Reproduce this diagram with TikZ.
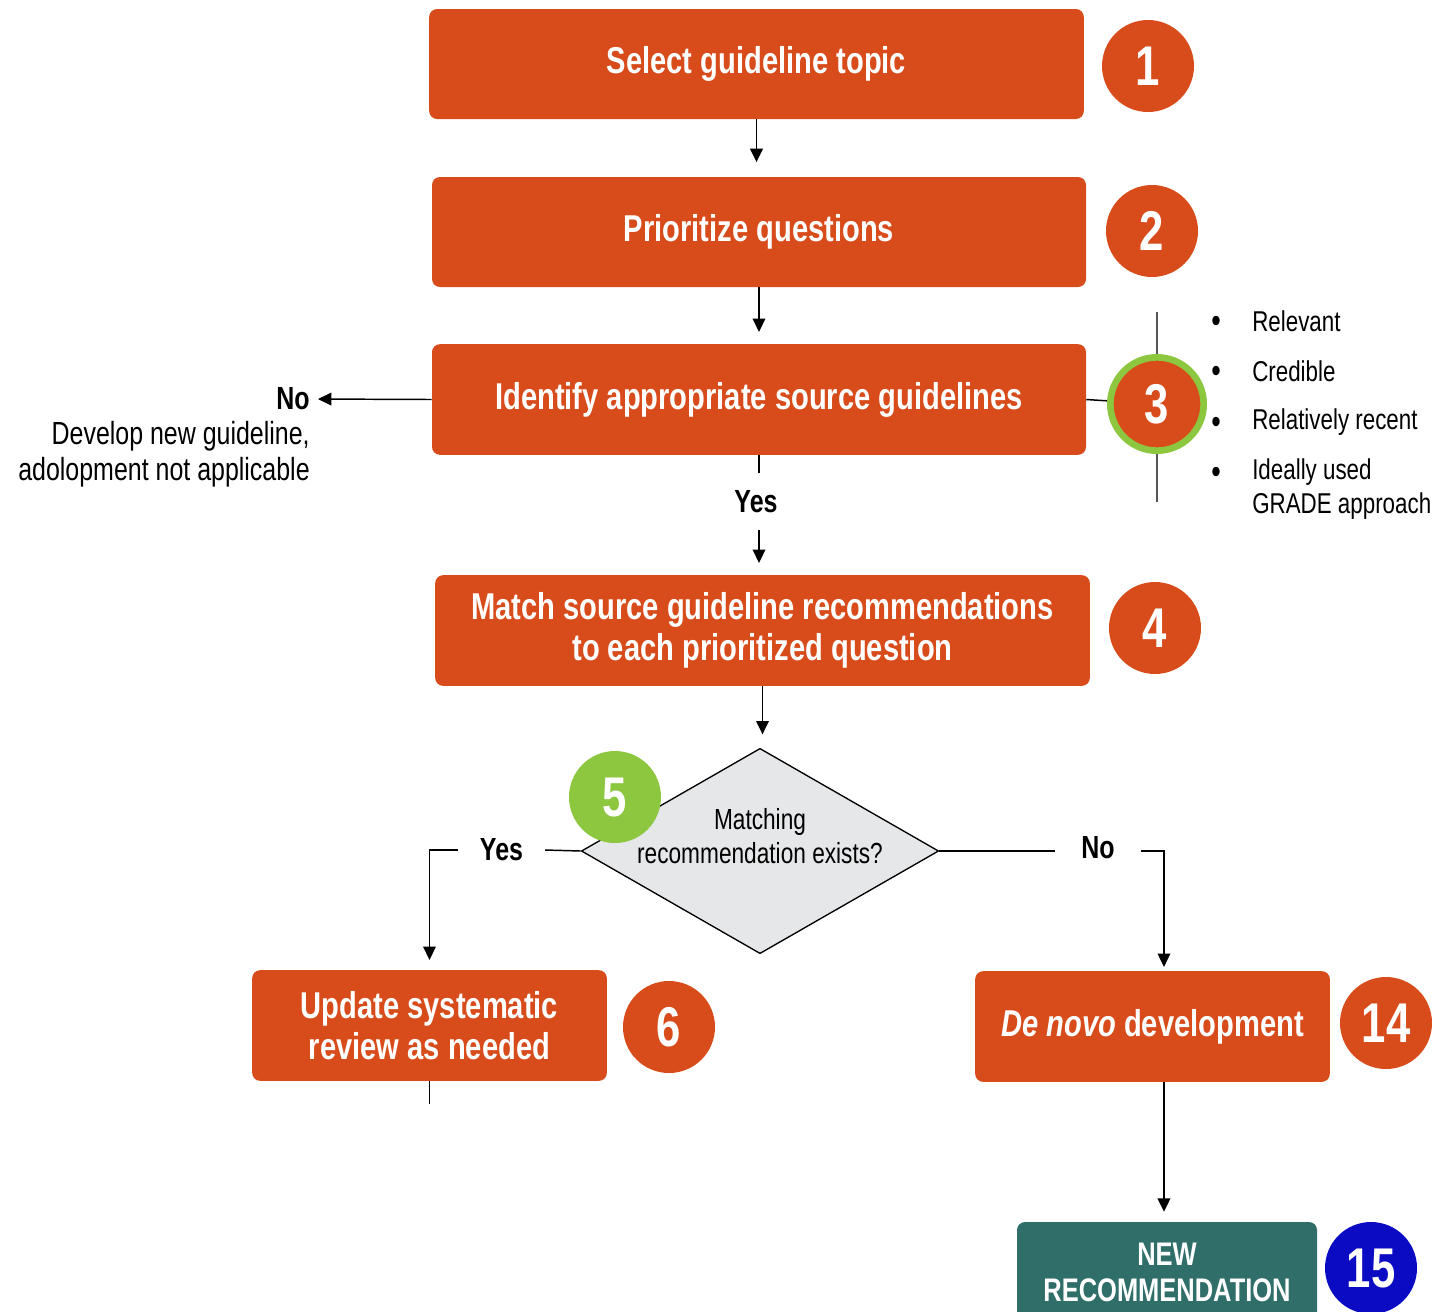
\documentclass[tikz,border=0pt]{standalone}
\usepackage{fontspec}
\setmainfont[FakeStretch=0.78]{Liberation Sans}
\usetikzlibrary{shapes.geometric,arrows.meta}
\definecolor{org}{HTML}{D84B1A}
\definecolor{grn}{HTML}{8DC63F}
\definecolor{tealbox}{HTML}{2F6E69}
\definecolor{blu}{HTML}{0B0BC4}
\definecolor{dgray}{HTML}{E6E7E9}
\definecolor{lgray}{HTML}{555555}
\begin{document}
\begin{tikzpicture}[x=0.75pt,y=-0.75pt,
 box/.style={fill=org, rounded corners=6pt, text=white, font=\fontsize{28}{31}\selectfont\bfseries, align=center, inner sep=0},
 num/.style={circle, fill=org, text=white, minimum size=69pt, inner sep=0, font=\fontsize{42}{42}\selectfont\bfseries},
 arr/.style={-{Triangle[length=10pt,width=9.5pt]}, line width=1.1pt},
 ln/.style={line width=1.1pt},
 lbl/.style={font=\fontsize{24}{26}\selectfont\bfseries, inner sep=0},
 txt/.style={font=\fontsize{24}{27}\selectfont, inner sep=0},
 btxt/.style={font=\fontsize{21.5}{25.5}\selectfont, inner sep=0, anchor=west}]
\useasboundingbox (0,0) rectangle (1432,1311);

% boxes
\node[box, minimum width=491pt, minimum height=82.5pt] (b1) at (756.5,64) {Select guideline topic};
\node[box, minimum width=490.5pt, minimum height=82.5pt] (b2) at (759,232) {Prioritize questions};
\node[box, minimum width=490.5pt, minimum height=83pt] (b3) at (759,399.5) {Identify appropriate source guidelines};
\node[box, minimum width=491pt, minimum height=83pt] (b4) at (762.5,630.5) {Match source guideline recommendations\\to each prioritized question};
\node[box, minimum width=266pt, minimum height=83pt] (b6) at (429.5,1025.5) {Update systematic\\review as needed};
\node[box, minimum width=266pt, minimum height=83pt] (b14) at (1152.5,1026.5) {\textit{De novo} development};
\node[box, fill=tealbox, minimum width=225pt, minimum height=75pt, font=\fontsize{24.5}{27}\selectfont\bfseries] (b15) at (1167,1272) {\bfseries NEW\\\bfseries RECOMMENDATION};

% number circles
\node[num] (n1) at (1148,66) {1};
\node[num] (n2) at (1152,231) {2};
\draw[lgray, line width=1pt] (1157,312) -- (1157,502);
\draw[ln] (b3.east) -- (1157,404);
\node[num, draw=grn, line width=5pt, minimum size=70pt] (n3) at (1157,404) {3};
\node[num] (n4) at (1155,628) {4};
\node[num] (n6) at (669,1027) {6};
\node[num] (n14) at (1386,1023) {14};
\node[num, fill=blu] (n15) at (1371,1268) {15};

% bullet list
\foreach \yy/\tt in {321/Relevant, 371/Credible, 422/Relatively recent, 472/Ideally used} {
  \node[btxt, font=\fontsize{26}{26}\selectfont] at (1211,\yy+3) {•};
  \node[btxt] at (1252,\yy) {\tt};
}
\node[btxt] (grade) at (1252,506) {GRADE approach};

% No (left)
\node[lbl, anchor=east] (no1) at (310,399) {No};
\node[txt, anchor=north east, align=right] (dev) at (310,421) {Develop new guideline,\\adolopment not applicable};
\draw[arr, shorten >=6pt] (b3.west) -- (no1.east);

% arrows between boxes
\draw[arr, shorten >=11pt] (b1.south) -- (b1.south |- b2.north);
\draw[arr, shorten >=9pt] (b2.south) -- (b2.south |- b3.north);
\node[lbl, minimum height=42.75pt] (yes1) at (756,501.5) {Yes};
\draw[ln] (b3.south) -- (b3.south |- yes1.north);
\draw[arr, shorten >=9pt] (b3.south |- yes1.south) -- (b3.south |- b4.north);

% diamond
\node[diamond, draw, fill=dgray, line width=1pt, minimum width=268pt, minimum height=154pt, inner sep=0] (d) at (760,851) {};
\node[font=\fontsize{21.8}{25}\selectfont, align=center, inner sep=0] (dt) at (760,836) {Matching\\recommendation exists?};
\draw[arr, shorten >=10pt] (b4.south) -- (b4.south |- d.north);
\node[num, fill=grn] (n5) at (615,797) {5};

% Yes branch
\node[lbl, minimum width=65pt] (yes2) at (501.5,850) {Yes};
\draw[ln] (d.west) -- (yes2.east);
\draw[arr, shorten >=7.5pt] (yes2.west) -| (b6.north);
\coordinate (c6) at (429.5,1104);
\draw[ln] (b6.south) -- (c6);

% No branch
\node[lbl, minimum width=64.5pt] (no2) at (1098,848) {No};
\draw[ln] (d.east) -- (no2.west |- d.east);
\draw[arr, shorten >=3pt] (no2.east |- d.east) -| ([xshift=8.6pt]b14.north);
\draw[arr, shorten >=7.5pt] ([xshift=8.6pt]b14.south) -- ([xshift=8.6pt]b14.south |- b15.north);
\end{tikzpicture}
\end{document}
